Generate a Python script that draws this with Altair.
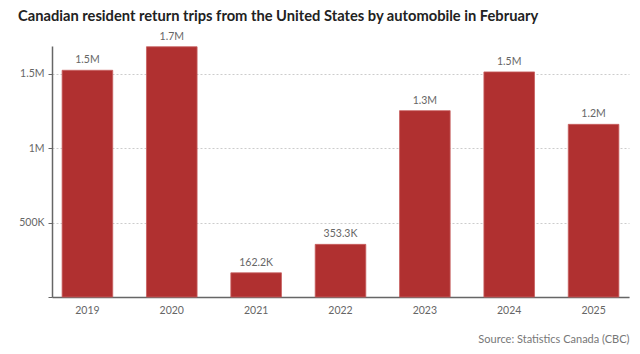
import altair as alt
import pandas as pd

years = ["2019", "2020", "2021", "2022", "2023", "2024", "2025"]
trips = [1522000, 1680000, 162200, 353300, 1251000, 1511000, 1159000]
y_ticks = [0, 500000, 1000000, 1500000]

df = pd.DataFrame({"year": years, "trips": trips})

FONT = "Lato"
GRAY = "#666666"

base = alt.Chart(df).encode(
    x=alt.X(
        "year:N",
        sort=years,
        scale=alt.Scale(paddingInner=0.4, paddingOuter=0.12),
        axis=alt.Axis(
            title="Source: Statistics Canada (CBC)",
            titleAnchor="end",
            titleAlign="right",
            titleFont=FONT,
            titleFontSize=11,
            titleFontWeight="normal",
            titleColor="#777777",
            titlePadding=18,
            labelAngle=0,
            labelFont=FONT,
            labelFontSize=10.5,
            labelColor=GRAY,
            labelPadding=8,
            ticks=False,
            domainColor="#666666",
            domainWidth=1.5,
            grid=False,
        ),
    ),
    y=alt.Y(
        "trips:Q",
        scale=alt.Scale(domain=[0, 1685000], nice=False),
        axis=alt.Axis(
            title=None,
            values=y_ticks,
            labelExpr="datum.value == 0 ? '' : replace(format(datum.value, '~s'), 'k', 'K')",
            labelFont=FONT,
            labelFontSize=10.5,
            labelColor=GRAY,
            labelPadding=4,
            tickSize=4,
            tickColor="#666666",
            domainColor="#666666",
            domainWidth=1.5,
            grid=True,
            gridColor="#cccccc",
            gridDash=[2, 2],
            gridWidth=1,
        ),
    ),
)

bars = base.mark_bar(color="#b03030", stroke="#c86060", strokeWidth=0.8)

labels = base.mark_text(
    dy=-5, baseline="bottom", font=FONT, fontSize=10.5, color=GRAY
).encode(
    text="label:N"
).transform_calculate(
    label="datum.trips >= 1000000 ? format(datum.trips / 1000000, '.1f') + 'M' : format(datum.trips / 1000, '.1f') + 'K'"
)

chart = (
    alt.layer(bars, labels)
    .properties(
        width=577,
        height=251,
        autosize=alt.AutoSizeParams(type="none"),
        padding={"left": 52, "top": 46, "right": 11, "bottom": 57},
        title=alt.TitleParams(
            "Canadian resident return trips from the United States by automobile in February",
            anchor="start",
            frame="group",
            dx=-34,
            offset=8,
            font=FONT,
            fontSize=14.7,
            fontWeight="bold",
            color="#222222",
        ),
        background="white",
    )
    .configure_view(stroke=None)
)

chart.save("out.html", embed_options={"renderer": "svg", "actions": False})
